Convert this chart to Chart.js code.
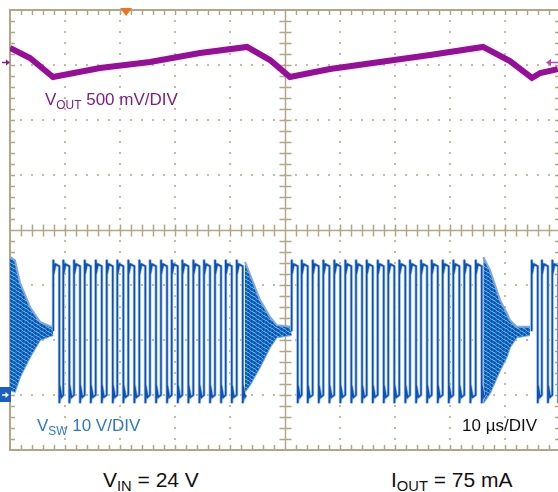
<!DOCTYPE html>
<html>
<head>
<meta charset="utf-8">
<script src="https://cdn.jsdelivr.net/npm/chart.js"></script>
<style>
body { margin: 0; background: #fff; overflow: hidden; }
#wrap { position: relative; width: 558px; height: 492px; overflow: hidden; }
#c { position: absolute; left: 0; top: 0; }
.lbl { position: absolute; font-family: "Liberation Sans", Arial, sans-serif; white-space: nowrap; line-height: 1; }
.lbl sub { font-size: 0.7em; vertical-align: -0.3em; line-height: 0; }
</style>
</head>
<body>
<div id="wrap">
  <canvas id="c" width="570" height="460"></canvas>
  <div class="lbl" style="left:45px; top:91px; font-size:17px; color:#7b2180;">V<sub>OUT</sub> 500 mV/DIV</div>
  <div class="lbl" style="left:37px; top:417px; font-size:17px; color:#2b7bc4;">V<sub>SW</sub> 10 V/DIV</div>
  <div class="lbl" style="left:462px; top:417px; font-size:17px; color:#111;">10 &micro;s/DIV</div>
  <div class="lbl" style="left:103px; top:469px; font-size:21px; color:#111;">V<sub>IN</sub> = 24 V</div>
  <div class="lbl" style="left:391px; top:469px; font-size:21px; color:#111;">I<sub>OUT</sub> = 75 mA</div>
</div>
<script>
// scope setup: 10 us/div, 8 vertical divisions
const voutRef = 3.05;     // div, purple marker
const voutScale = 500;    // mV/div
const vswRef = -3;        // div, blue ground marker
const vswScale = 10;      // V/div
const trigTime = 21.1;    // us

// V_OUT ripple (mV, around the marker)
const voutTime = [0, 3.64, 7.82, 16.36, 25.45, 34.55, 43.09, 47.27, 50.9, 58.18, 67.27, 76.36, 86.0, 90.9, 94.9, 96.4, 99.6];
const voutMv   = [130, 39, -134, -52, 2, 84, 139, 20, -134, -61, 2, 66, 139, 10, -143, -98, -62];

// V_SW switching bursts: rising edge times (us)
const burst1Rise = [7.87, 9.69, 11.64, 13.58, 15.58, 17.58, 19.51, 21.51, 23.51, 25.45, 27.45, 29.40, 31.33, 33.33, 35.27, 37.27, 39.22, 41.22];
const burst2Rise = [51.21, 53.03, 55.03, 56.97, 58.96, 60.96, 62.91, 64.85, 66.85, 68.78, 70.78, 72.73, 74.73, 76.67, 78.67, 80.60, 82.60, 84.67];
const burst3Rise = [94.85, 96.70, 98.60];
const highWidth = 1.1;   // us
const vswPeak = 24.6, vswHigh = 23.4, vswLow = 0, vswDip = -1.5, vswIdle = 11.6;

// ringing envelopes between bursts (V)
const ringATime = [0, 0.9, 1.82, 3.64, 5.45, 7.27, 7.87];
const ringAHigh = [25.1, 24.5, 20.4, 16.0, 13.3, 12.5, 12.4];
const ringALow  = [0.9, 0.6, 3.3, 6.9, 10.0, 10.7, 10.9];
const ringBTime = [42.73, 43.6, 45.45, 47.27, 48.5, 51.2];
const ringBHigh = [24.2, 22.0, 17.3, 14.2, 12.7, 12.4];
const ringBLow  = [0.6, 1.8, 5.1, 8.7, 10.5, 10.9];
const ringCTime = [86.05, 87.27, 89.09, 90.31, 90.91, 92.13, 94.55];
const ringCHigh = [25.1, 22.7, 17.3, 14.9, 13.6, 12.4, 12.4];
const ringCLow  = [-1.45, 0.36, 4.5, 6.9, 8.7, 10.5, 10.9];

const vsw = v => vswRef + v / vswScale;
const vo = mv => voutRef + mv / voutScale;

function pulses(rises) {
  const pts = [];
  rises.forEach((r, i) => {
    pts.push({x: r, y: vsw(i === 0 ? vswIdle : vswLow)});
    pts.push({x: r, y: vsw(vswPeak)});
    pts.push({x: r + 0.2, y: vsw(vswHigh - 0.6)});
    pts.push({x: r + 0.4, y: vsw(vswHigh + 0.4)});
    pts.push({x: r + highWidth, y: vsw(vswHigh)});
    pts.push({x: r + highWidth, y: vsw(vswDip)});
    pts.push({x: r + highWidth + 0.2, y: vsw(vswLow + 0.8)});
    pts.push({x: r + highWidth + 0.4, y: vsw(vswLow - 0.4)});
  });
  const last = rises[rises.length - 1];
  pts.push({x: last + highWidth + 0.6, y: vsw(vswLow)});
  pts.push({x: last + highWidth + 0.7, y: null});
  return pts;
}
const swPoints = () => [].concat(pulses(burst1Rise), pulses(burst2Rise), pulses(burst3Rise));

function env(ts, vs) { return ts.map((t, i) => ({x: t, y: vsw(vs[i])})); }

// speckled fill for the ringing
const pc = document.createElement('canvas');
pc.width = 6; pc.height = 4;
const pctx = pc.getContext('2d');
pctx.fillStyle = '#1f63c0'; pctx.fillRect(0, 0, 6, 4);
pctx.fillStyle = '#33c6dd'; pctx.fillRect(1, 0, 2, 1); pctx.fillRect(4, 2, 1, 1); pctx.fillRect(0, 3, 1, 1);
pctx.fillStyle = '#5d96dc'; pctx.fillRect(3, 1, 1, 1); pctx.fillRect(5, 3, 1, 1);
pctx.fillStyle = '#0e4aa6'; pctx.fillRect(5, 0, 1, 2); pctx.fillRect(2, 2, 1, 2);
const ringFill = pctx.createPattern(pc, 'repeat');

// order: lower numbers are drawn on top
function ringSets(ts, hi, lo) {
  return [
    {data: env(ts, hi), borderColor: '#7fa8e2', borderWidth: 2, backgroundColor: ringFill, fill: '+1', order: 4},
    {data: env(ts, lo), borderColor: '#7fa8e2', borderWidth: 2, fill: false, order: 4}
  ];
}

const datasets = [].concat(
  ringSets(ringATime, ringAHigh, ringALow),
  ringSets(ringBTime, ringBHigh, ringBLow),
  ringSets(ringCTime, ringCHigh, ringCLow),
  [
    {data: swPoints(), borderColor: '#9dbbe6', borderWidth: 3, fill: false, spanGaps: false, order: 3},
    {data: swPoints(), borderColor: '#0a52b4', borderWidth: 1.5, fill: false, spanGaps: false, order: 2},
    {data: voutTime.map((t, i) => ({x: t, y: vo(voutMv[i])})), borderColor: '#970f98', borderWidth: 6, fill: false, order: 1}
  ]
);

const graticule = {
  id: 'graticule',
  beforeDatasetsDraw(chart) {
    const ctx = chart.ctx, xs = chart.scales.x, ys = chart.scales.y, a = chart.chartArea;
    ctx.save();
    ctx.fillStyle = '#c4bba4';
    for (let t = 10; t < 100; t += 10) {
      if (t === 50) continue;
      const px = Math.round(xs.getPixelForValue(t));
      for (let k = 0; k <= 40; k++) {
        const py = Math.round(ys.getPixelForValue(-4 + k * 0.2));
        ctx.fillRect(px - 1, py - 1, 2, 2);
      }
    }
    for (let d = -3; d <= 3; d++) {
      if (d === 0) continue;
      const py = Math.round(ys.getPixelForValue(d));
      for (let k = 0; k <= 50; k++) {
        const px = Math.round(xs.getPixelForValue(k * 2));
        ctx.fillRect(px - 1, py - 1, 2, 2);
      }
    }
    ctx.strokeStyle = '#b3a686';
    ctx.lineWidth = 1.5;
    const cx = Math.round(xs.getPixelForValue(50)) + 0.5;
    const cy = Math.round(ys.getPixelForValue(0)) + 0.5;
    ctx.beginPath();
    ctx.moveTo(cx, a.top); ctx.lineTo(cx, a.bottom);
    ctx.moveTo(a.left, cy); ctx.lineTo(a.right, cy);
    for (let k = 1; k < 40; k++) {
      const py = Math.round(ys.getPixelForValue(-4 + k * 0.2)) + 0.5;
      ctx.moveTo(cx - 6, py); ctx.lineTo(cx + 6, py);
      ctx.moveTo(a.left, py); ctx.lineTo(a.left + 5, py);
      ctx.moveTo(a.right, py); ctx.lineTo(a.right - 5, py);
    }
    for (let k = 1; k < 50; k++) {
      const px = Math.round(xs.getPixelForValue(k * 2)) + 0.5;
      ctx.moveTo(px, cy - 6); ctx.lineTo(px, cy + 6);
      ctx.moveTo(px, a.top); ctx.lineTo(px, a.top + 5);
      ctx.moveTo(px, a.bottom); ctx.lineTo(px, a.bottom - 5);
    }
    ctx.stroke();
    ctx.lineWidth = 2;
    ctx.strokeRect(a.left, a.top, a.right - a.left, a.bottom - a.top);
    ctx.restore();
  },
  afterDatasetsDraw(chart) {
    const ctx = chart.ctx, xs = chart.scales.x, ys = chart.scales.y, a = chart.chartArea;
    ctx.save();
    // trigger marker
    const tx = xs.getPixelForValue(trigTime);
    ctx.fillStyle = '#f2701e';
    ctx.beginPath();
    ctx.moveTo(tx - 6, a.top - 2); ctx.lineTo(tx + 6, a.top - 2); ctx.lineTo(tx, a.top + 6);
    ctx.closePath(); ctx.fill();
    // V_OUT markers
    const oy = Math.round(ys.getPixelForValue(voutRef)) + 0.5;
    ctx.strokeStyle = '#8a1b8c'; ctx.fillStyle = '#8a1b8c'; ctx.lineWidth = 1.5;
    ctx.beginPath(); ctx.moveTo(2, oy); ctx.lineTo(7, oy); ctx.stroke();
    ctx.beginPath(); ctx.moveTo(10, oy); ctx.lineTo(6, oy - 3); ctx.lineTo(6, oy + 3); ctx.closePath(); ctx.fill();
    ctx.strokeStyle = '#b04fb0'; ctx.fillStyle = '#b04fb0';
    ctx.beginPath(); ctx.moveTo(551, oy); ctx.lineTo(558, oy); ctx.stroke();
    ctx.beginPath(); ctx.moveTo(546, oy); ctx.lineTo(551, oy - 3.5); ctx.lineTo(551, oy + 3.5); ctx.closePath(); ctx.fill();
    // V_SW ground marker
    const gy = ys.getPixelForValue(vswRef);
    ctx.fillStyle = '#1a5fbf';
    ctx.fillRect(0, gy - 8, 11, 15);
    ctx.strokeStyle = '#fff'; ctx.fillStyle = '#fff'; ctx.lineWidth = 1.5;
    ctx.beginPath(); ctx.moveTo(2, gy); ctx.lineTo(6, gy); ctx.stroke();
    ctx.beginPath(); ctx.moveTo(9, gy); ctx.lineTo(5.5, gy - 3); ctx.lineTo(5.5, gy + 3); ctx.closePath(); ctx.fill();
    ctx.restore();
  }
};

new Chart(document.getElementById('c'), {
  type: 'line',
  data: {datasets: datasets},
  options: {
    responsive: false,
    devicePixelRatio: 1,
    animation: false,
    layout: {padding: {left: 10, top: 10, right: 10, bottom: 10}},
    elements: {point: {radius: 0}, line: {tension: 0, borderJoinStyle: 'miter'}},
    plugins: {legend: {display: false}, tooltip: {enabled: false}},
    scales: {
      x: {type: 'linear', min: 0, max: 100, display: false},
      y: {type: 'linear', min: -4, max: 4, display: false}
    }
  },
  plugins: [graticule]
});
</script>
</body>
</html>
